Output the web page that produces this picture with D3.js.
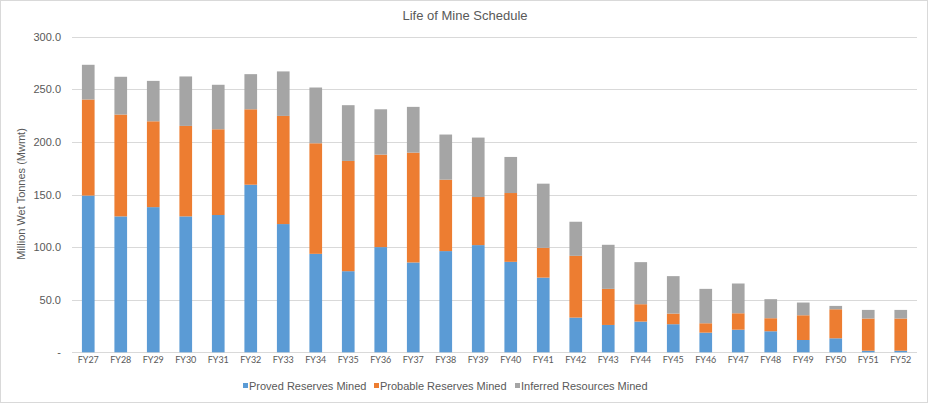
<!DOCTYPE html>
<html><head><meta charset="utf-8">
<script src="https://cdn.jsdelivr.net/npm/d3@7/dist/d3.min.js"></script>
<style>html,body{margin:0;padding:0;background:#fff;}svg{display:block;}</style>
</head><body>
<script>
const categories = ["FY27","FY28","FY29","FY30","FY31","FY32","FY33","FY34","FY35","FY36","FY37","FY38","FY39","FY40","FY41","FY42","FY43","FY44","FY45","FY46","FY47","FY48","FY49","FY50","FY51","FY52"];
const proved   = [149,129.2,138,129.2,130.5,159.3,121.9,93.6,77.1,100,85.4,96.2,101.9,86,71,33,26,29.2,26.7,18.7,21.5,20,11.7,13.3,1.5,1.5];
const probable = [91.3,96.8,81.6,86,81.5,71.7,102.8,105.1,104.8,87.9,104.4,67.9,45.7,65.4,28.3,58.7,34.3,16.5,10.1,8.9,15.6,12.4,23.5,27.6,30.6,30.6];
const inferred = [33,35.9,38.4,47,42.3,33.4,42.3,53,53,43.1,43.5,42.9,56.5,34.3,61,32.4,41.9,40,35.6,32.7,28.3,18.1,12.1,3.2,8.2,8.2];
const seriesNames = ["Proved Reserves Mined","Probable Reserves Mined","Inferred Resources Mined"];
const yTicks = [0,50,100,150,200,250,300];
const colors = ["#5b9bd5","#ed7d31","#a5a5a5"];

const W = 930, H = 404;
const svg = d3.select("body").append("svg").attr("width", W).attr("height", H);
svg.append("rect").attr("x",0.5).attr("y",0.5).attr("width",927).attr("height",402)
  .attr("fill","#fff").attr("stroke","#d9d9d9");

const x = d3.scaleBand().domain(categories).range([72, 917]).paddingInner(0.61).paddingOuter(0.305);
const y = d3.scaleLinear().domain([0, 300]).range([352.3, 36.7]);

// gridlines
svg.append("g").selectAll("line").data(yTicks).join("line")
  .attr("x1", 72).attr("x2", 917)
  .attr("y1", d => Math.round(y(d)) + 0.5).attr("y2", d => Math.round(y(d)) + 0.5)
  .attr("stroke", "#d9d9d9").attr("stroke-width", 1);

// y axis labels
const yAxis = d3.axisLeft(y).tickValues(yTicks).tickSize(0).tickPadding(0)
  .tickFormat(d => d === 0 ? "-" : d3.format(".1f")(d));
const gy = svg.append("g").attr("transform", "translate(61,0)").call(yAxis);
gy.select(".domain").remove();
gy.selectAll("text").attr("fill", "#595959").style("font-family", "'Liberation Sans', Arial, sans-serif").style("font-size", "11px");

// stacked data
const rows = categories.map((c, i) => ({cat: c, s0: proved[i], s1: probable[i], s2: inferred[i]}));
const stack = d3.stack().keys(["s0","s1","s2"])(rows);
svg.append("g").selectAll("g").data(stack).join("g")
  .attr("fill", (d, i) => colors[i])
  .selectAll("rect").data(d => d).join("rect")
  .attr("x", d => x(d.data.cat))
  .attr("width", x.bandwidth())
  .attr("y", d => y(d[1]))
  .attr("height", d => y(d[0]) - y(d[1]));

// x axis
const xAxis = d3.axisBottom(x).tickSize(0).tickPadding(0);
const gx = svg.append("g").attr("transform", "translate(0,357)").call(xAxis);
gx.select(".domain").remove();
gx.selectAll("text").attr("fill", "#595959").attr("dy", "0.71em")
  .style("font-family", "Lato, 'Open Sans', sans-serif").style("font-size", "9px");

// title
svg.append("text").attr("x", 465).attr("y", 20).attr("text-anchor", "middle")
  .attr("fill", "#595959").style("font-family", "'Liberation Sans', Arial, sans-serif").style("font-size", "13px")
  .text("Life of Mine Schedule");

// y label
svg.append("text").attr("transform", "translate(25,194) rotate(-90)").attr("text-anchor", "middle")
  .attr("fill", "#595959").style("font-family", "'Liberation Sans', Arial, sans-serif").style("font-size", "11px")
  .text("Million Wet Tonnes (Mwmt)");

// legend
const legendX = [243, 374, 515];
const lg = svg.append("g").selectAll("g").data(seriesNames).join("g")
  .attr("transform", (d, i) => `translate(${legendX[i]},386)`);
lg.append("rect").attr("x", 0).attr("y", -3).attr("width", 5).attr("height", 5).attr("fill", (d, i) => colors[i]);
lg.append("text").attr("x", 6).attr("y", 0).attr("dy", "0.35em")
  .attr("fill", "#595959").style("font-family", "'Liberation Sans', Arial, sans-serif").style("font-size", "11px")
  .text(d => d);
</script>
</body></html>
